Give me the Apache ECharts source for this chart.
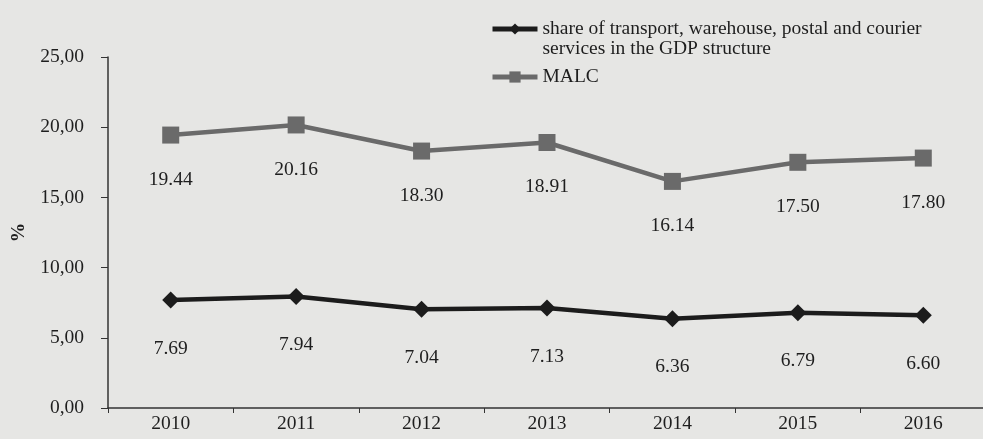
<!DOCTYPE html>
<html>
<head>
<meta charset="utf-8">
<script src="https://cdn.jsdelivr.net/npm/echarts@6/dist/echarts.min.js"></script>
<style>
html,body{margin:0;padding:0;background:#e6e6e4;}
#c{width:983px;height:439px;}
</style>
</head>
<body>
<div id="c"></div>
<script>
const years = ['2010','2011','2012','2013','2014','2015','2016'];
const shareGDP = [7.69, 7.94, 7.04, 7.13, 6.36, 6.79, 6.60];
const malc = [19.44, 20.16, 18.30, 18.91, 16.14, 17.50, 17.80];
const seriesNames = ['share of transport, warehouse, postal and courier\nservices in the GDP structure', 'MALC'];
const yTicks = [0, 5, 10, 15, 20, 25];

const font = 'Liberation Serif';
const txt = '#1e1e1e';
const fs = 19.5;
const chart = echarts.init(document.getElementById('c'));
chart.setOption({
  backgroundColor: '#e6e6e4',
  animation: false,
  textStyle: {fontFamily: font, color: txt},
  grid: {left: 108, right: -3, top: 57, bottom: 31, containLabel: false, outerBoundsMode: 'none'},
  legend: {
    orient: 'vertical', left: 490, top: -1, padding: 0, itemWidth: 45, itemHeight: 14, itemGap: 8,
    data: seriesNames,
    lineStyle: {width: 5},
    textStyle: {fontFamily: font, fontSize: 19.5, color: txt, lineHeight: 20},
    formatter: n => (n.indexOf('\n') >= 0 ? ' \n' + n : n)
  },
  xAxis: {
    type: 'category', data: years, boundaryGap: true,
    axisLine: {lineStyle: {color: '#333', width: 1.5}},
    axisTick: {show: true, length: 5, lineStyle: {color: '#333'}},
    axisLabel: {fontFamily: font, fontSize: fs, color: txt, margin: 6}
  },
  yAxis: {
    type: 'value', min: yTicks[0], max: yTicks[yTicks.length - 1], interval: 5,
    name: '%', nameLocation: 'middle', nameGap: 76, nameRotate: 90,
    nameTextStyle: {fontFamily: font, fontSize: fs, fontWeight: 'bold', color: txt},
    axisLine: {show: true, lineStyle: {color: '#333', width: 1.5}},
    axisTick: {show: true, length: 7, lineStyle: {color: '#333'}},
    splitLine: {show: false},
    axisLabel: {fontFamily: font, fontSize: fs, color: txt, margin: 24,
      formatter: v => v.toFixed(2).replace('.', ',')}
  },
  series: [
    {
      name: seriesNames[0], type: 'line', data: shareGDP,
      symbol: 'diamond', symbolSize: 17,
      lineStyle: {color: '#1c1c1c', width: 4.5},
      itemStyle: {color: '#1c1c1c'},
      label: {show: true, position: 'bottom', distance: 30, fontFamily: font, fontSize: fs, color: txt,
        formatter: p => p.value.toFixed(2)}
    },
    {
      name: seriesNames[1], type: 'line', data: malc,
      symbol: 'rect', symbolSize: 17,
      lineStyle: {color: '#6a6a6a', width: 4.5},
      itemStyle: {color: '#6a6a6a'},
      label: {show: true, position: 'bottom', distance: 26, fontFamily: font, fontSize: fs, color: txt,
        formatter: p => p.value.toFixed(2)}
    }
  ]
});
</script>
</body>
</html>
